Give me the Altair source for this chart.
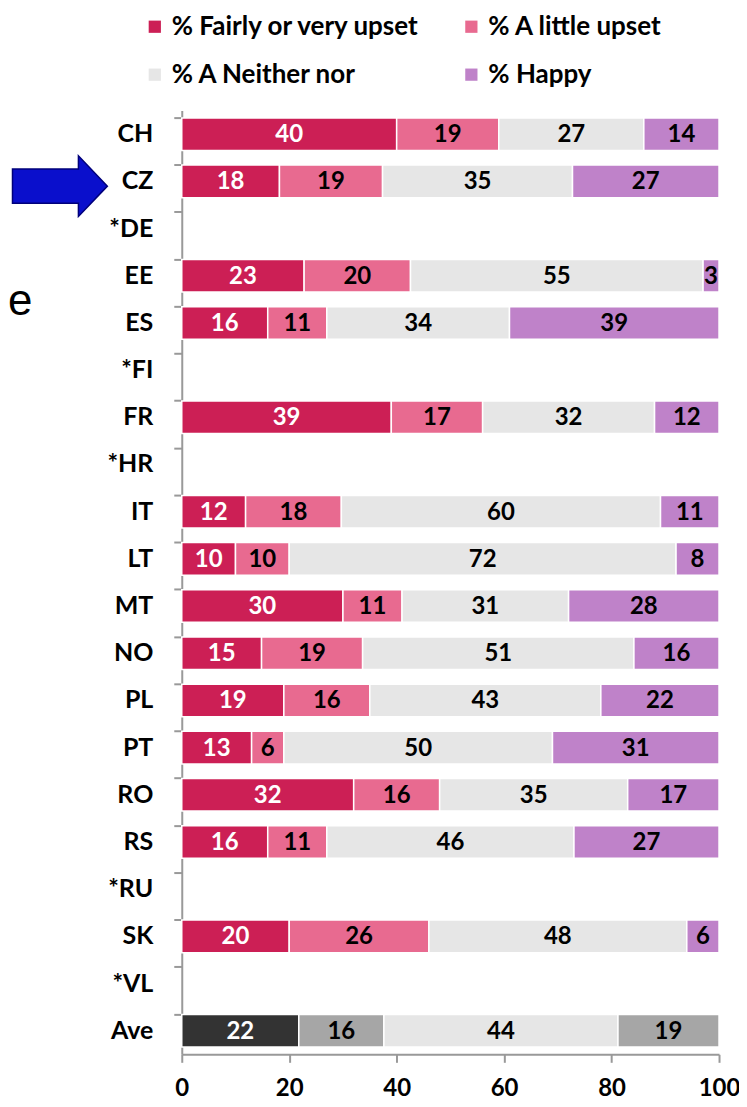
import altair as alt
import pandas as pd

countries = ["CH", "CZ", "*DE", "EE", "ES", "*FI", "FR", "*HR", "IT", "LT", "MT",
             "NO", "PL", "PT", "RO", "RS", "*RU", "SK", "*VL", "Ave"]
upset_high = [40, 18, None, 23, 16, None, 39, None, 12, 10, 30, 15, 19, 13, 32, 16, None, 20, None, 22]
upset_low = [19, 19, None, 20, 11, None, 17, None, 18, 10, 11, 19, 16, 6, 16, 11, None, 26, None, 16]
neither = [27, 35, None, 55, 34, None, 32, None, 60, 72, 31, 51, 43, 50, 35, 46, None, 48, None, 44]
happy = [14, 27, None, 3, 39, None, 12, None, 11, 8, 28, 16, 22, 31, 17, 27, None, 6, None, 19]

categories = ["% Fairly or very upset", "% A little upset", "% A Neither nor", "% Happy"]
cat_colors = ["#CC1F55", "#E86A90", "#E6E6E6", "#BF82C9"]
ave_colors = ["#333333", "#A6A6A6", "#E6E6E6", "#A6A6A6"]
x_ticks = [0, 20, 40, 60, 80, 100]
# legend laid out column by column: (Fairly, Neither) | (little, Happy)
legend_order = [categories[0], categories[2], categories[1], categories[3]]

rows = []
for i, c in enumerate(countries):
    for k, series in enumerate([upset_high, upset_low, neither, happy]):
        v = series[i]
        if v is None:
            continue
        key = categories[k] if c != "Ave" else "Ave " + categories[k]
        rows.append({"country": c, "category": categories[k], "key": key,
                     "order": k, "value": v,
                     "tcolor": "white" if k == 0 else "black"})
df = pd.DataFrame(rows)

keys = categories + ["Ave " + c for c in categories]
FONT = "Lato"

base = alt.Chart(df).transform_joinaggregate(
    total="sum(value)", groupby=["country"]
).transform_calculate(
    pct="datum.value / datum.total * 100"
).transform_stack(
    stack="pct", groupby=["country"], sort=[alt.SortField("order")], as_=["x0", "x1"]
).transform_calculate(
    mid="(datum.x0 + datum.x1) / 2"
)

yenc = alt.Y("country:N", scale=alt.Scale(domain=countries, paddingInner=0.31, paddingOuter=0.155),
             axis=alt.Axis(title=None, bandPosition=0, labelFont=FONT, labelFontSize=25,
                           labelFontWeight="bold", labelColor="#000000", labelPadding=21,
                           tickSize=8, tickColor="#999999", domainColor="#999999",
                           domainWidth=2, tickWidth=2, grid=False))

bars = base.mark_bar(stroke="white", strokeWidth=1.5).encode(
    y=yenc,
    x=alt.X("x0:Q", scale=alt.Scale(domain=[0, 100], nice=False),
            axis=alt.Axis(title=None, values=x_ticks, labelFont=FONT, labelFontSize=24,
                          labelFontWeight="bold", labelColor="#000000", labelPadding=14,
                          tickSize=8, tickColor="#999999", domainColor="#999999",
                          domainWidth=2, tickWidth=2, grid=False, labelFlush=False)),
    x2="x1:Q",
    color=alt.Color("key:N", scale=alt.Scale(domain=keys, range=cat_colors + ave_colors),
                    legend=alt.Legend(title=None, values=legend_order, orient="none",
                                      legendX=-40, legendY=-97, columns=2,
                                      columnPadding=38, rowPadding=22,
                                      symbolType="square", symbolSize=150,
                                      symbolStrokeWidth=0, labelFont=FONT,
                                      labelFontSize=26, labelFontWeight="bold",
                                      labelColor="#000000", labelLimit=400)),
)

labels = base.mark_text(font=FONT, fontSize=24, fontWeight="bold", baseline="middle", dy=1).encode(
    y=alt.Y("country:N", scale=alt.Scale(domain=countries)),
    x="mid:Q",
    text="value:Q",
    color=alt.Color("tcolor:N", scale=None),
)

arrow_df = pd.DataFrame({"country": ["CZ"]})
arrow = alt.Chart(arrow_df).mark_point(
    shape="M -1 -0.26 L 0.39 -0.26 L 0.39 -0.54 L 1 0.1 L 0.39 0.74 L 0.39 0.46 L -1 0.46 Z",
    size=9025, filled=True, fill="#0A0FCC", stroke="#00007A", strokeWidth=1.5, opacity=1,
).encode(
    y=alt.Y("country:N", scale=alt.Scale(domain=countries)),
    x=alt.value(-122),
)

stray_df = pd.DataFrame({"t": ["e"]})
stray = alt.Chart(stray_df).mark_text(
    font="Liberation Sans", fontSize=44, align="left", baseline="alphabetic", color="#000000"
).encode(text="t:N", x=alt.value(-174), y=alt.value(205))

chart = alt.layer(bars, labels, arrow, stray).properties(
    width=538, height=945,
    autosize=alt.AutoSizeParams(type="none"),
    padding={"left": 174, "top": 102, "right": 20, "bottom": 45},
).configure_view(stroke=None)

chart.save("out.html", embed_options={"renderer": "svg", "actions": False})
